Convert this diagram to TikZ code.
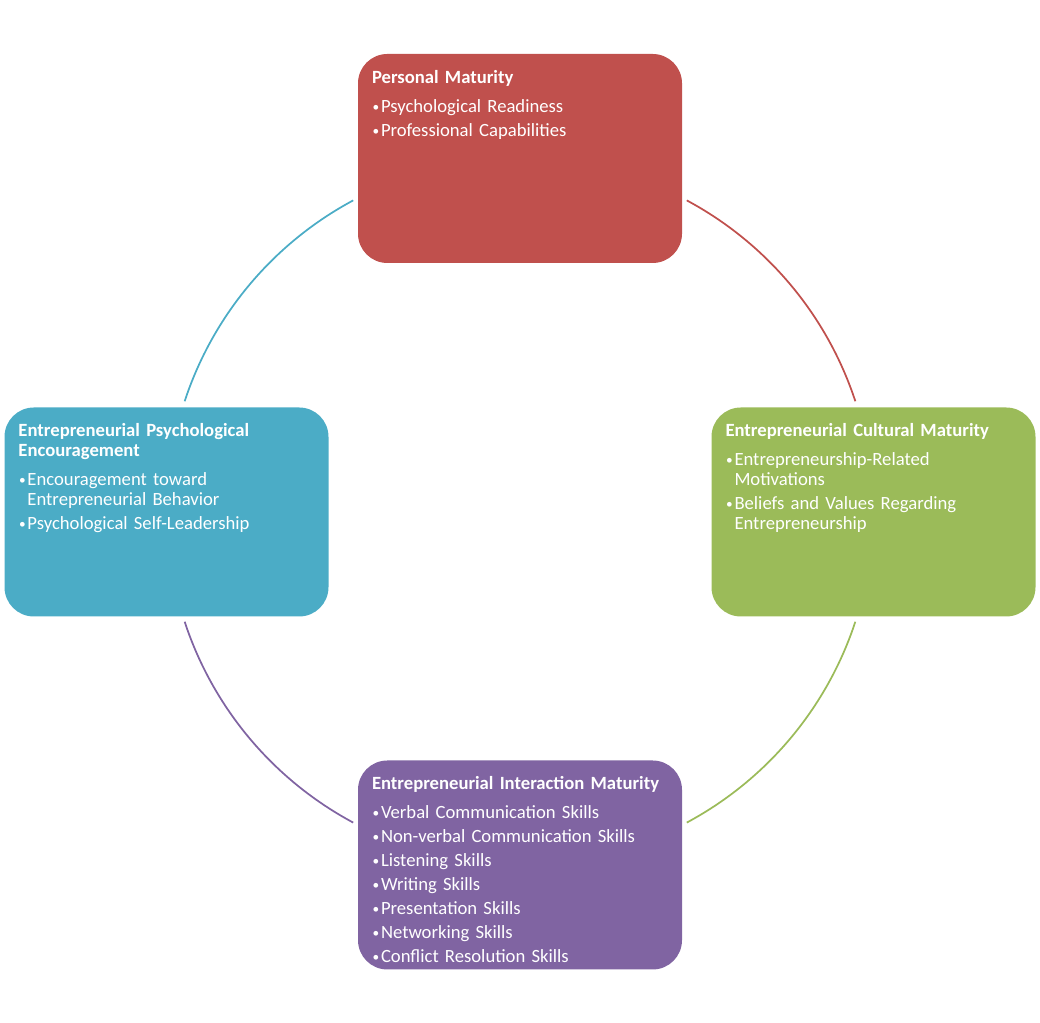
\documentclass[tikz,border=0pt]{standalone}
\usepackage{fontspec}
\setmainfont{Carlito}
\definecolor{pmred}{HTML}{C0504D}
\definecolor{ecmgreen}{HTML}{9BBB59}
\definecolor{eimpurple}{HTML}{8064A2}
\definecolor{epeblue}{HTML}{4BACC6}
\newcommand{\boxtitle}[1]{{\bfseries #1\par}\vspace{3.75pt}}
\newcommand{\bul}[1]{\par\vspace{3pt}\hangindent=6.75pt\hangafter=1\noindent
  \makebox[6.75pt][l]{\hspace{0.4pt}\raisebox{0.7pt}{\fontsize{10}{10}\selectfont\textbullet}}#1}

\begin{document}
\begin{tikzpicture}[x=0.75pt,y=0.75pt,
  box/.style={rounded corners=22pt, minimum width=243pt, minimum height=156.75pt,
              inner sep=0pt},
  txt/.style={anchor=north west, inner sep=0pt, text width=228pt, align=left,
              text=white, font=\fontsize{14}{15}\selectfont},
  link/.style={line width=1.3pt}]
\useasboundingbox (0,0) rectangle (1040,1023);
\coordinate (ctr) at (520,511.5);
% the four boxes
\node[box, fill=pmred]     (pm)  at (520,864.5) {};
\node[box, fill=ecmgreen]  (ecm) at (873.5,511) {};
\node[box, fill=eimpurple] (eim) at (520,158)   {};
\node[box, fill=epeblue]   (epe) at (166.5,511) {};
% texts
\node[txt] (pm-t) at ([shift={(14,-16)}]pm.north west)
  {\boxtitle{Personal Maturity}
   \bul{Psychological Readiness}
   \bul{Professional Capabilities}\par};
\node[txt] (ecm-t) at ([shift={(14,-16)}]ecm.north west)
  {\boxtitle{Entrepreneurial Cultural Maturity}
   \bul{Entrepreneurship-Related\newline Motivations}
   \bul{Beliefs and Values Regarding\newline Entrepreneurship}\par};
\node[txt] (eim-t) at ([shift={(14,-16)}]eim.north west)
  {\boxtitle{Entrepreneurial Interaction Maturity}
   \bul{Verbal Communication Skills}
   \bul{Non-verbal Communication Skills}
   \bul{Listening Skills}
   \bul{Writing Skills}
   \bul{Presentation Skills}
   \bul{Networking Skills}
   \bul{Conflict Resolution Skills}\par};
\node[txt] (epe-t) at ([shift={(14,-16)}]epe.north west)
  {\boxtitle{Entrepreneurial Psychological\newline Encouragement}
   \bul{Encouragement toward\newline Entrepreneurial Behavior}
   \bul{Psychological Self-Leadership}\par};
% arcs of the cycle
\coordinate (pm-e)  at ([shift={(61.8:353)}]ctr);
\coordinate (ecm-e) at ([shift={(-18.2:353)}]ctr);
\coordinate (eim-e) at ([shift={(-118.2:353)}]ctr);
\coordinate (epe-e) at ([shift={(161.8:353)}]ctr);
\draw[link, pmred]     (pm-e)  arc[start angle=61.8,   end angle=18.2,   radius=353];
\draw[link, ecmgreen]  (ecm-e) arc[start angle=-18.2,  end angle=-61.8,  radius=353];
\draw[link, eimpurple] (eim-e) arc[start angle=-118.2, end angle=-161.8, radius=353];
\draw[link, epeblue]   (epe-e) arc[start angle=161.8,  end angle=118.2,  radius=353];
\end{tikzpicture}
\end{document}
